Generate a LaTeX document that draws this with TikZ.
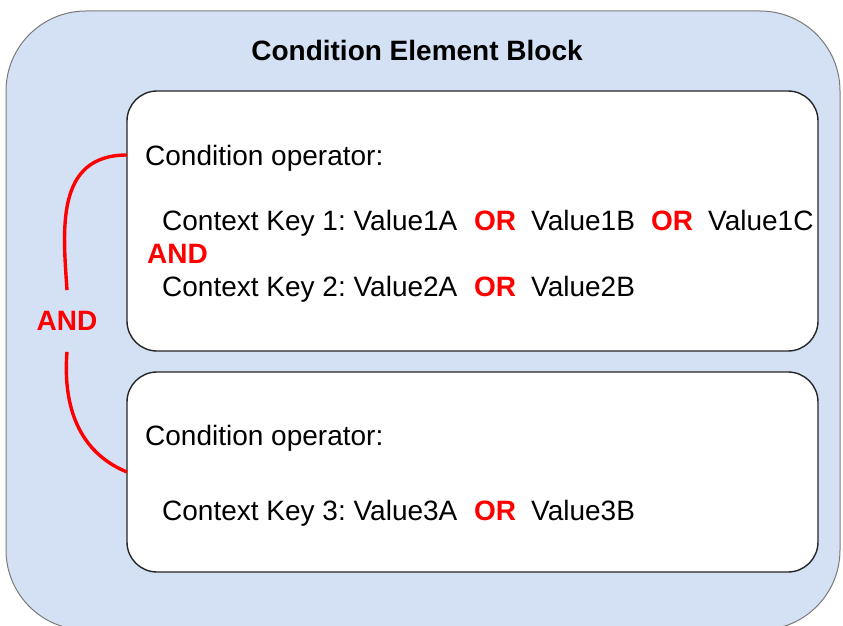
\documentclass[tikz,border=0pt]{standalone}
\usepackage{fontspec}
\setmainfont{Liberation Sans}
\frenchspacing
\definecolor{outerfill}{HTML}{D4E1F5}
\definecolor{outerdraw}{HTML}{7A7A7A}
\definecolor{andred}{HTML}{FF0000}
\begin{document}
\begin{tikzpicture}[x=1pt,y=-1pt,
  txt/.style={anchor=base west,inner sep=0pt,font=\fontsize{28}{34}\selectfont},
  redtxt/.style={txt,text=andred,font=\fontsize{28}{34}\selectfont\bfseries},
  innerbox/.style={draw=black!85,line width=1.4pt,fill=white,rounded corners=30pt,minimum width=691pt,inner sep=0pt},
  andline/.style={draw=andred,line width=3.4pt}]
\useasboundingbox (0,0) rectangle (843,626);
\begin{scope}
\clip (0,0) rectangle (843,626);
\node[draw=outerdraw,line width=1pt,fill=outerfill,rounded corners=80pt,minimum width=834pt,minimum height=619pt,inner sep=0pt] (outer) at (423,320.5) {};
\end{scope}
\node[anchor=base,inner sep=0pt,font=\fontsize{28}{34}\selectfont\bfseries] (title) at (417,60) {Condition Element Block};
\node[innerbox,minimum height=260pt] (box1) at (472.5,221) {};
\node[innerbox,minimum height=200pt] (box2) at (472.5,472) {};
% box 1 text
\node[txt] (op1) at (145,165) {Condition operator:};
\node[txt] (k1) at (162,230) {Context Key 1: Value1A};
\node[redtxt] (or1) at (474,230) {OR};
\node[txt] (v1b) at (531,230) {Value1B};
\node[redtxt] (or2) at (651,230) {OR};
\node[txt] (v1c) at (708,230) {Value1C};
\node[redtxt] (and1) at (147,263) {AND};
\node[txt] (k2) at (162,296) {Context Key 2: Value2A};
\node[redtxt] (or3) at (474,296) {OR};
\node[txt] (v2b) at (531,296) {Value2B};
% box 2 text
\node[txt] (op2) at (145,445) {Condition operator:};
\node[txt] (k3) at (162,520) {Context Key 3: Value3A};
\node[redtxt] (or4) at (474,520) {OR};
\node[txt] (v3b) at (531,520) {Value3B};
% AND connector
\node[text=andred,font=\fontsize{28}{34}\selectfont\bfseries,inner xsep=0pt,inner ysep=21pt] (andlbl) at (67,321) {AND};
\coordinate (c1) at (127,155);
\coordinate (c2) at (127,472);
\draw[andline] (c1) .. controls (55,155) and (63,230) .. (andlbl.north);
\draw[andline] (andlbl.south) .. controls (62,415) and (85,455) .. (c2);
\end{tikzpicture}
\end{document}
